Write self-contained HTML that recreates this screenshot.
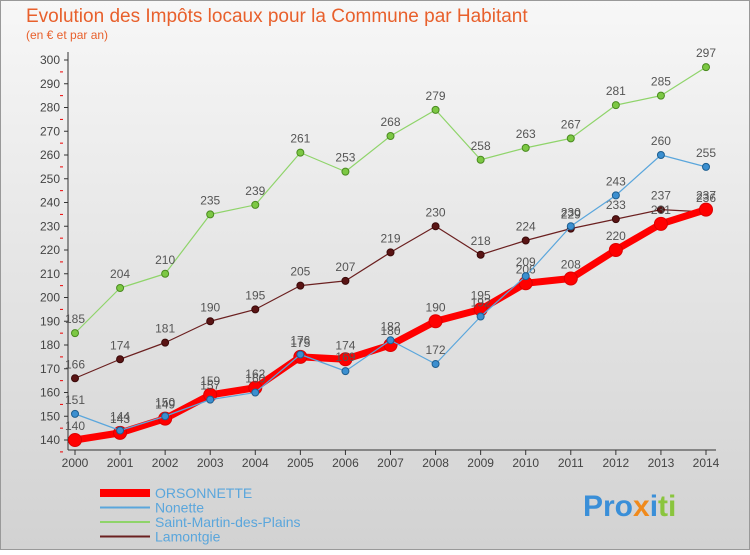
<!DOCTYPE html>
<html><head><meta charset="utf-8"><style>
body{margin:0;width:750px;height:550px;overflow:hidden;font-family:"Liberation Sans",sans-serif}
</style></head><body>
<svg width="750" height="550" xmlns="http://www.w3.org/2000/svg">
<defs><linearGradient id="bg" x1="0" y1="0" x2="0" y2="1"><stop offset="0" stop-color="#f7f7f7"/><stop offset="1" stop-color="#d2d2d2"/></linearGradient></defs>
<rect x="0.5" y="0.5" width="749" height="549" fill="url(#bg)" stroke="#999"/>
<text x="26" y="22" font-size="19" fill="#e8602c">Evolution des Impôts locaux pour la Commune par Habitant</text>
<text x="26" y="39" font-size="12" fill="#e8602c">(en € et par an)</text>
<g id="axes"></g><g id="plot"></g><g id="legend"></g>
<text x="583" y="516" font-size="30" font-weight="bold"><tspan fill="#3a8fd8">Pro</tspan><tspan fill="#f08a1c">x</tspan><tspan fill="#3a8fd8">i</tspan><tspan fill="#8ac53e">ti</tspan></text>
</svg>
<script>
const years=[2000,2001,2002,2003,2004,2005,2006,2007,2008,2009,2010,2011,2012,2013,2014];
const yTicks=[140,150,160,170,180,190,200,210,220,230,240,250,260,270,280,290,300];
const orsonnette=[140,143,149,159,162,175,174,180,190,195,206,208,220,231,237];
const nonette=[151,144,150,157,160,176,169,182,172,192,209,230,243,260,255];
const saintMartin=[185,204,210,235,239,261,253,268,279,258,263,267,281,285,297];
const lamontgie=[166,174,181,190,195,205,207,219,230,218,224,229,233,237,236];
const NS="http://www.w3.org/2000/svg";
const X=i=>75+i*(706-75)/(years.length-1);
const Y=v=>440-(v-140)*(380/160);
function mk(t,a,p){const e=document.createElementNS(NS,t);for(const k in a)e.setAttribute(k,a[k]);p.appendChild(e);return e;}
const ax=document.getElementById('axes'),pl=document.getElementById('plot'),lg=document.getElementById('legend');
let e=mk('line',{x1:68,y1:52,x2:68,y2:450,stroke:'#333'},ax);


e=mk('line',{x1:68,y1:450,x2:716,y2:450,stroke:'#333'},ax);


yTicks.forEach(v=>{const y=Y(v);mk('line',{x1:64,y1:y,x2:68,y2:y,stroke:'#333'},ax);
mk('line',{x1:60,y1:y+11.9,x2:63,y2:y+11.9,stroke:'#e00'},ax);
const t=mk('text',{x:60,y:y+4,'font-size':12,'text-anchor':'end',fill:'#444'},ax);t.textContent=v;

});
years.forEach((yr,i)=>{const x=X(i);mk('line',{x1:x,y1:450,x2:x,y2:455,stroke:'#333'},ax);
const t=mk('text',{x:x,y:467,'font-size':12,'text-anchor':'middle',fill:'#444'},ax);t.textContent=yr;

});
function series(name,data,col,w,r,dot,stroke){
const g=mk('g',{},pl);


mk('polyline',{points:data.map((v,i)=>X(i)+','+Y(v)).join(' '),fill:'none',stroke:col,'stroke-width':w,'stroke-linejoin':'round'},g);
data.forEach((v,i)=>{const c=mk('circle',{cx:X(i),cy:Y(v),r:r,fill:dot,stroke:stroke,'stroke-width':1},g);


const t=mk('text',{x:X(i),y:Y(v)-10,'font-size':12,'text-anchor':'middle',fill:'#555'},g);t.textContent=v;

});}
series('saint-martin',saintMartin,'#8fd46a',1.2,3.5,'#7cc843','#4a8a20');
series('lamontgie',lamontgie,'#6b2020',1.2,3.5,'#5a1414','#3a0a0a');
series('orsonnette',orsonnette,'#ff0000',7,6.5,'#f00','#d00');
series('nonette',nonette,'#5aa6dc',1.2,3.5,'#3b8fd0','#1f5f90');
const leg=[['ORSONNETTE','#ff0000',8],['Nonette','#5aa6dc',2],['Saint-Martin-des-Plains','#8fd46a',2],['Lamontgie','#6b2020',2]];
leg.forEach((l,i)=>{const y=493+i*14.5;const g=mk('g',{},lg);


mk('line',{x1:100,y1:y,x2:150,y2:y,stroke:l[1],'stroke-width':l[2]},g);
const t=mk('text',{x:155,y:y+5,'font-size':14,fill:'#5aa6dc'},g);t.textContent=l[0];});
</script>
</body></html>
